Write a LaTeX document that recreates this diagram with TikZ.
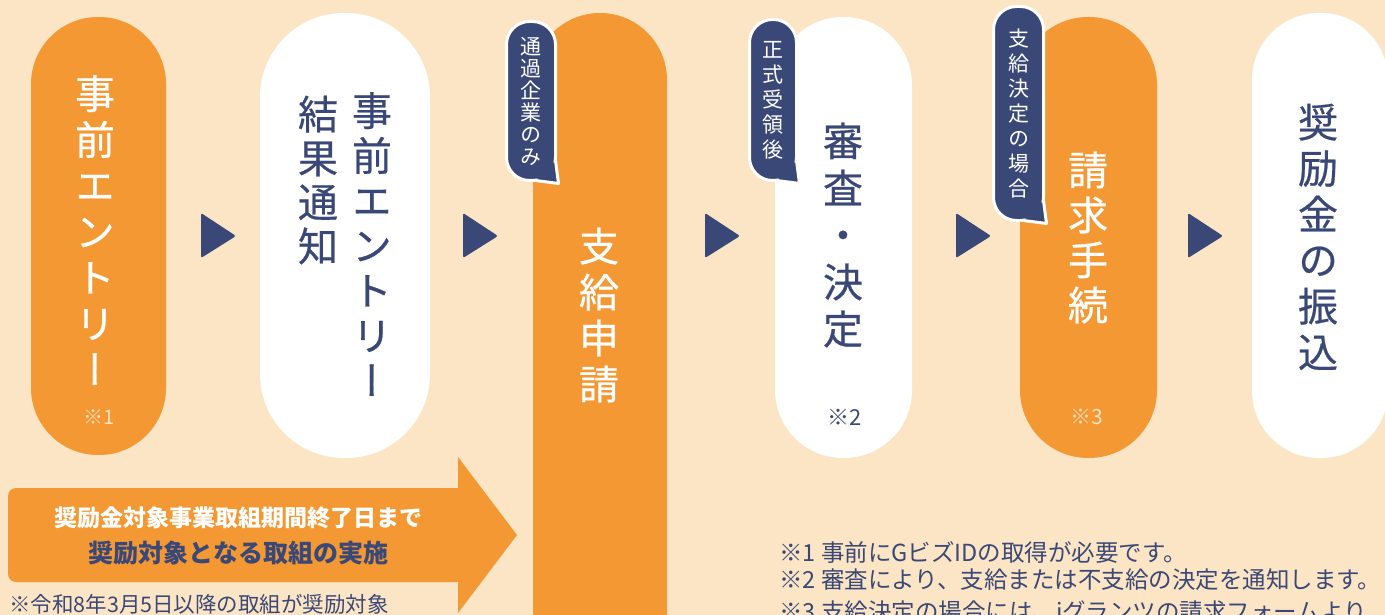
\documentclass[tikz,border=0pt]{standalone}
\usepackage{fontspec}
\setmainfont{Noto Sans CJK JP}
\newfontfamily\tate[RawFeature=+vert,FakeBold=0.6]{Noto Sans CJK JP}
\newfontfamily\tatesm[RawFeature=+vert]{Noto Sans CJK JP}
\usetikzlibrary{calc}

\definecolor{bg}{RGB}{252,229,196}
\definecolor{ora}{RGB}{243,152,50}
\definecolor{navy}{RGB}{58,72,120}
\definecolor{pale}{RGB}{252,226,190}

% little pointed tail at the lower right of a bubble
\newcommand\bubbletail[1]{%
  \draw[white,line width=3pt,fill=navy,line join=round]
    ($(#1.south east)+(-21.5,-1.5)$) -- ($(#1.south east)+(1.5,1.5)$) -- ($(#1.south east)+(-1.5,-21.5)$);}

\begin{document}
\begin{tikzpicture}[
    x=1pt,y=-1pt,
    pill/.style={
        rectangle,
        inner sep=0pt,
        minimum width=135pt,
        rounded corners=67pt,
    },
    vlabel/.style={
        font=\tate\fontsize{40}{46}\selectfont,
        align=center,
        inner sep=0pt,
    },
    bubble/.style={
        draw=white,
        line width=3pt,
        fill=navy,
        text=white,
        minimum width=47pt,
        rounded corners=23pt,
        inner sep=0pt,
        align=center,
        font=\tatesm\fontsize{21}{25}\selectfont,
    },
    kome/.style={
        font=\fontsize{20}{20}\selectfont,
        inner sep=0pt,
    },
]

\def\AY{236}        %height of the small arrows
\def\NS{23.5}       %size of the notes

\useasboundingbox (0,0) rectangle (1385,615);
\clip (0,0) rectangle (1385,615);
\fill[bg] (0,0) rectangle (1385,615);

% steps
\node[pill,fill=ora,minimum height=438pt] (entry) at (98.5,236) {};
\node[pill,fill=white,minimum width=170pt,rounded corners=84pt,minimum height=445pt] (result) at (345,235.5) {};
\node[pill,fill=ora,minimum width=134pt,minimum height=700pt] (apply) at (600,363) {};
\node[pill,fill=white,minimum width=137pt,rounded corners=68pt,minimum height=441pt] (review) at (843.5,237.5) {};
\node[pill,fill=ora,minimum width=137pt,rounded corners=68pt,minimum height=441pt] (claim) at (1088.5,237.5) {};
\node[pill,fill=white,minimum width=136pt,minimum height=445pt] (payout) at (1320,235.5) {};

\node[vlabel,text=white] (entryL) at (95,230) {事\\前\\エ\\ン\\ト\\リ\\ー};
\node[kome,text=pale] (entryK) at (99,417) {※1};
\node[vlabel,text=navy,font=\tate\fontsize{40}{45}\selectfont] (resultR) at (372,244) {事\\前\\エ\\ン\\ト\\リ\\ー};
\node[vlabel,text=navy,font=\tate\fontsize{40}{44}\selectfont] (resultL) at (318,180) {結\\果\\通\\知};
\node[vlabel,text=white] (applyL) at (599,315) {支\\給\\申\\請};
\node[vlabel,text=navy,font=\tate\fontsize{40}{47}\selectfont] (reviewL) at (843,235) {審\\査\\・\\決\\定};
\node[kome,text=navy,font=\fontsize{22}{22}\selectfont] (reviewK) at (845,417) {※2};
\node[vlabel,text=white,font=\tate\fontsize{40}{45}\selectfont] (claimL) at (1088,237.5) {請\\求\\手\\続};
\node[kome,text=pale,font=\fontsize{21}{21}\selectfont] (claimK) at (1087,417) {※3};
\node[vlabel,text=navy] (payoutL) at (1318,237) {奨\\励\\金\\の\\振\\込};

% bubbles
\node[bubble,minimum width=49pt,minimum height=159pt,font=\tatesm\fontsize{21}{22}\selectfont] (b1) at (531,101) {通\\過\\企\\業\\の\\み};
\bubbletail{b1}
\node[bubble,minimum height=161pt] (b2) at (773,100) {正\\式\\受\\領\\後};
\bubbletail{b2}
\node[bubble,minimum width=50pt,minimum height=214pt] (b3) at (1018.5,113.5) {支\\給\\決\\定\\の\\場\\合};
\bubbletail{b3}

% arrows between the steps
\foreach \x in {218,480,722,973,1205}
    \fill[navy,rounded corners=1.5pt] (\x-17,\AY-23) -- (\x+18,\AY) -- (\x-17,\AY+22) -- cycle;

% period arrow
\fill[ora,rounded corners=8pt] (8,488) rectangle (475,582);
\fill[ora] (458,457) -- (517,535) -- (458,613) -- cycle;
\node[font=\bfseries\fontsize{23}{23}\selectfont,text=white] (periodA) at (238.5,518) {奨励金対象事業取組期間終了日まで};
\node[font=\bfseries\fontsize{25}{25}\selectfont,text=navy] (periodB) at (238.5,553) {奨励対象となる取組の実施};
\node[anchor=west,inner sep=0pt,font=\fontsize{21.5}{21.5}\selectfont,text=navy] (since) at (9,604) {※令和8年3月5日以降の取組が奨励対象};

% notes
\node[anchor=west,inner sep=0pt,font=\fontsize{\NS}{\NS}\selectfont,text=navy] (n1) at (779,552) {※1 事前にGビズIDの取得が必要です。};
\node[anchor=west,inner sep=0pt,font=\fontsize{\NS}{\NS}\selectfont,text=navy] (n2) at (779,580) {※2 審査により、支給または不支給の決定を通知します。};
\node[anchor=west,inner sep=0pt,font=\fontsize{\NS}{\NS}\selectfont,text=navy] (n3) at (779,613) {※3 支給決定の場合には、jグランツの請求フォームより};

\end{tikzpicture}
\end{document}
